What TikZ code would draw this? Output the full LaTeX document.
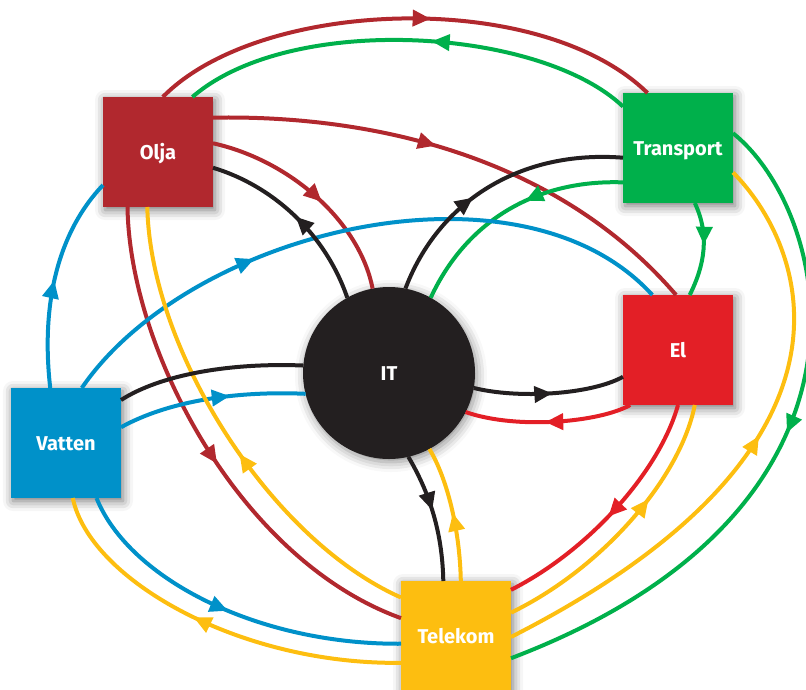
\documentclass[tikz,border=0pt]{standalone}
\usepackage{fontspec}
\setmainfont{Fira Sans}
\usetikzlibrary{arrows.meta,decorations.markings,shadows.blur}

\definecolor{oljared}{HTML}{B1282E}
\definecolor{transgreen}{HTML}{00B04B}
\definecolor{elred}{HTML}{E31F26}
\definecolor{vattenblue}{HTML}{0091C9}
\definecolor{telegold}{HTML}{FDBE10}
\definecolor{itblack}{HTML}{231F20}

\tikzset{
  sector/.style={rectangle, fill=#1, minimum size=110pt, inner sep=0pt, outer sep=0pt,
    text=white, font=\bfseries\fontsize{20}{24}\selectfont, text height=14pt, text depth=0pt,
    blur shadow={shadow xshift=2pt, shadow yshift=-3pt, shadow blur radius=10pt, shadow opacity=55}},
  hub/.style={circle, fill=itblack, minimum size=172pt, inner sep=0pt, outer sep=0pt,
    text=white, font=\bfseries\fontsize{20}{24}\selectfont, text height=14pt, text depth=0pt,
    blur shadow={shadow xshift=2pt, shadow yshift=-3pt, shadow blur radius=10pt, shadow opacity=45}},
  link/.style={line width=4pt},
  flow/.style={link, postaction=decorate,
    decoration={markings, mark=at position #1 with {\arrow{Triangle[length=18pt,width=16pt]}}}},
  flow/.default=0.5
}

\begin{document}
\begin{tikzpicture}[x=1pt,y=-1pt]
	\useasboundingbox (0,0) rectangle (806,689);
	
	\node[sector=oljared] (olja) at (158,152) {Olja};
	\node[sector=transgreen] (transport) at (678,148) {Transport};
	\node[sector=elred] (el) at (678,350) {El};
	\node[sector=vattenblue] (vatten) at (66,443) {Vatten};
	\node[sector=telegold] (telekom) at (456,636) {Telekom};
	\node[hub] (it) at (389,373) {IT};
	
	% Olja
	\draw[flow=0.55, oljared] (olja.85) .. controls +(97,-99) and +(-107,-105) .. (transport.119);
	\draw[flow=0.44, oljared] (olja.32) .. controls +(167,-3) and +(-116,-135) .. (el.92);
	\draw[flow=0.55, oljared] (olja.9) .. controls +(77,17) and +(-13,-67) .. (it.101);
	\draw[flow=0.53, oljared] (olja.241) .. controls +(2,143) and +(-161,-58) .. (telekom.162);
	
	% Transport
	\draw[flow=0.45, transgreen] (transport.143) .. controls +(-83,-79) and +(98,-85) .. (olja.58);
	\draw[flow=0.42, transgreen] (transport.212) .. controls +(-83,-3) and +(37,-80) .. (it.61);
	\draw[flow=0.45, transgreen] (transport.287) .. controls +(15,32) and +(15,-30) .. (el.78);
	\draw[flow=0.47, transgreen] (transport.15) .. controls +(97,77) and +(395,-150) .. (telekom.338);
	
	% El
	\draw[flow=0.52, elred] (el.229) .. controls +(-30,17) and +(52,18) .. (it.333);
	\draw[flow=0.52, elred] (el.270) .. controls +(-18,65) and +(79,-40) .. (telekom.40);
	
	% Vatten
	\draw[flow=0.5, vattenblue] (vatten.106) .. controls +(-10,-88) and +(-43,45) .. (olja.211);
	\draw[flow=0.34, vattenblue] (vatten.74) .. controls +(108,-158) and +(-132,-145) .. (el.115);
	\draw[flow=0.6, vattenblue] (vatten.16) .. controls +(49,-27) and +(-67,-3) .. (it.194);
	\draw[flow=0.5, vattenblue] (vatten.299) .. controls +(33,82) and +(-141,1) .. (telekom.188);
	
	% Telekom
	\draw[flow=0.45, telegold] (telekom.145) .. controls +(-131,-58) and +(3,143) .. (olja.259);
	\draw[flow=0.55, telegold] (telekom.206) .. controls +(-161,2) and +(17,82) .. (vatten.277);
	\draw[flow=0.53, telegold] (telekom.359) .. controls +(378,-192) and +(70,70) .. (transport.336);
	\draw[flow=0.63, telegold] (telekom.23) .. controls +(89,-43) and +(-15,75) .. (el.287);
	\draw[flow=0.5, telegold] (telekom.85) .. controls +(-1,-51) and +(18,30) .. (it.298);
	
	% IT
	\draw[flow=0.5, itblack] (it.119) .. controls +(-23,-67) and +(57,17) .. (olja.344);
	\draw[flow=0.42, itblack] (it.79) .. controls +(33,-87) and +(-103,-8) .. (transport.190);
	\draw[flow=0.52, itblack] (it.350) .. controls +(44,11) and +(-33,18) .. (el.206);
	\draw[flow=0.45, itblack] (it.283) .. controls +(20,34) and +(-1,-51) .. (telekom.103);
	\draw[link, itblack] (it.175) .. controls +(-75,-3) and +(39,-25) .. (vatten.38);
\end{tikzpicture}
\end{document}
